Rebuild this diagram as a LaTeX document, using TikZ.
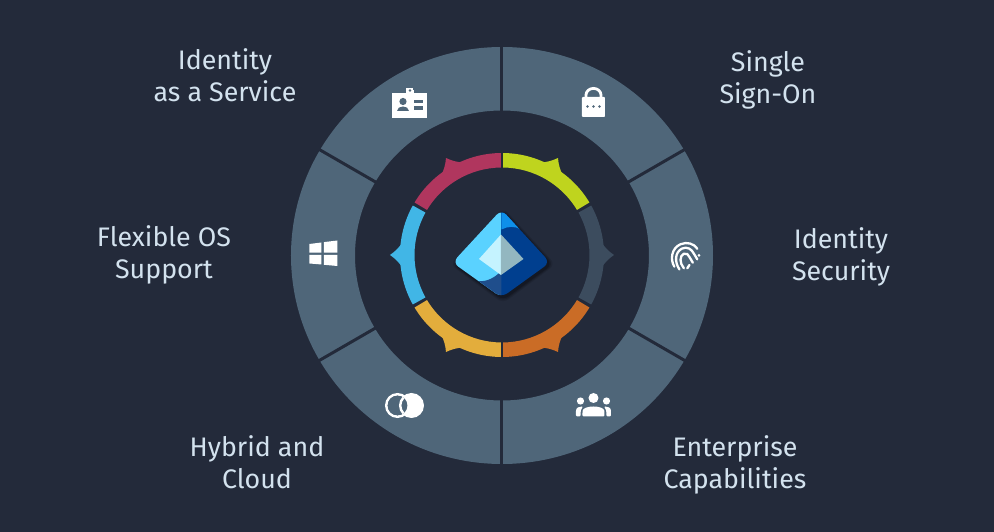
\documentclass[tikz,border=0pt]{standalone}
\usepackage{fontspec}
\setmainfont{Fira Sans}
\definecolor{bg}{HTML}{232A3A}
\definecolor{ringc}{HTML}{4F6679}
\definecolor{txt}{HTML}{D3E2EE}
\definecolor{crim}{HTML}{B0365E}
\definecolor{lime}{HTML}{BFD41E}
\definecolor{slate}{HTML}{3C4C5E}
\definecolor{orng}{HTML}{CA6C26}
\definecolor{gold}{HTML}{E3AD3C}
\definecolor{sky}{HTML}{41B6E6}
\definecolor{lgA}{HTML}{5AD2FF}
\definecolor{lgB}{HTML}{003F8F}
\definecolor{lgC}{HTML}{0E90EA}
\definecolor{lgD}{HTML}{1F4E8C}
\definecolor{lgE}{HTML}{C5F3FF}
\definecolor{lgF}{HTML}{93B7C0}
\tikzset{
  label/.style={text=txt,font=\fontsize{26.8}{32}\selectfont,align=center,inner sep=0pt},
  px/.style={shift={(-502,255)},yscale=-1},
  gapline/.style={draw=bg,line width=3pt},
  icon/.style={fill=white,draw=none},
  iconline/.style={draw=white,line cap=round,fill=none}
}
\newcommand{\ringseg}[4]{%
  \fill[#3] (#1:102) arc[start angle=#1,end angle=#2,radius=102] -- (#2:87.5) arc[start angle=#2,end angle=#1,radius=87.5] -- cycle;
  \fill[#3] ({#4-6.5}:101) .. controls ({#4-4.5}:103) and ({#4-2}:106.5) .. (#4:112) .. controls ({#4+2}:106.5) and ({#4+4.5}:103) .. ({#4+6.5}:101) -- cycle;
}
\newcommand{\logopath}{(501.5,209.5) -- (550,262.5) -- (501.5,297.5) -- (452.5,262.5) -- cycle}
\begin{document}
\begin{tikzpicture}[x=1pt,y=1pt]
\useasboundingbox (-502,-277) rectangle (492,255);
\fill[bg] (-502,-277) rectangle (492,255);
% outer ring
\fill[ringc,even odd rule] (0,-0.5) ellipse[x radius=211,y radius=208.5] (0,-0.5) ellipse[x radius=147,y radius=145];
\foreach \a in {90,30,-30,-90,150,210}{
  \draw[gapline] (\a:144) -- (\a:214);
}
% coloured ring
\ringseg{31}{89.3}{lime}{60}
\ringseg{-29}{29}{slate}{0}
\ringseg{-89.3}{-31}{orng}{-60}
\ringseg{211}{269.3}{gold}{240}
\ringseg{151}{209}{sky}{180}
\ringseg{90.7}{149}{crim}{120}
% logo
\begin{scope}[px]
  \foreach \d/\o in {4/0.10,2.5/0.14,1/0.2}{
    \fill[black,opacity=\o,rounded corners=7pt,shift={(1.5,2)}] (501.5,{209.5-\d}) -- ({550+\d},262.5) -- (501.5,{297.5+\d}) -- ({452.5-\d},262.5) -- cycle;
  }
  \begin{scope}
    \clip[rounded corners=7pt] \logopath;
    \fill[lgA] (445,200) rectangle (501.5,305);
    \fill[lgB] (501.5,200) rectangle (556,305);
    \fill[lgC] (501.5,200) -- (501.5,229.5) .. controls (508,226) and (515,226) .. (521,229.5) -- (540,200) -- cycle;
    \fill[lgD] (501.5,305) -- (501.5,271) .. controls (494,278) and (487,282) .. (478,281) -- (470,305) -- cycle;
    \fill[lgE] (501,234.5) -- (501,275) -- (479,259) -- cycle;
    \fill[lgF] (501,234.5) -- (501,275) -- (523.5,259) -- cycle;
  \end{scope}
  % id card
  \fill[icon] (392,93) rectangle (427.5,118);
  \fill[icon] (406,90) rectangle (414,94);
  \fill[icon] (406.5,88.5) rectangle (413.5,92);
  \fill[ringc] (410,90.5) circle[radius=1.4];
  \fill[ringc] (403,101.5) circle[radius=3.6];
  \fill[ringc] (397,111.5) .. controls (397,105) and (409,105) .. (409,111.5) -- cycle;
  \fill[ringc] (414,100) rectangle (423,103.5);
  \fill[ringc] (414,106.5) rectangle (423,110);
  % lock
  \draw[white,line width=2.8pt] (586,98) -- (586,95) arc[start angle=180,end angle=360,x radius=7.5,y radius=6.6] -- (601,98);
  \fill[icon,rounded corners=0.8pt] (582,97) rectangle (605,117);
  \foreach \x in {587.5,593.5,599.5}{\fill[ringc] (\x,106.5) circle[radius=1.3];}
  % windows
  \fill[icon] (309.5,244) -- (321.5,242.5) -- (321.5,252.6) -- (309.5,252.6) -- cycle;
  \fill[icon] (324,242.1) -- (337.5,240.5) -- (337.5,252.6) -- (324,252.6) -- cycle;
  \fill[icon] (309.5,254.8) -- (321.5,254.8) -- (321.5,264.5) -- (309.5,263.5) -- cycle;
  \fill[icon] (324,254.8) -- (337.5,254.8) -- (337.5,266) -- (324,264.8) -- cycle;
  % overlapping circles
  \draw[white,line width=2.6pt] (397.5,405.5) circle[radius=11.2];
  \fill[icon] (411.5,405.5) circle[radius=12.5];
  \fill[ringc] (397.5,405.5) circle[radius=9.9];
  \begin{scope}
    \clip (397.5,405.5) circle[radius=9.9];
    \draw[white,line width=2.4pt] (411.5,405.5) circle[radius=11.3];
  \end{scope}
  % people
  \fill[icon] (593.5,398) circle[radius=5];
  \fill[icon] (580.5,401) circle[radius=3.6];
  \fill[icon] (606.5,401) circle[radius=3.6];
  \fill[icon,rounded corners=1pt] (582.5,416.5) -- (582.5,412) .. controls (583,405) and (604,405) .. (604.5,412) -- (604.5,416.5) -- cycle;
  \fill[icon,rounded corners=1pt] (576,416.5) -- (576,412) .. controls (576,407.5) and (579,406.5) .. (583,406.5) .. controls (581,409) and (580.5,411) .. (580.5,416.5) -- cycle;
  \fill[icon,rounded corners=1pt] (611,416.5) -- (611,412) .. controls (611,407.5) and (608,406.5) .. (604,406.5) .. controls (606,409) and (606.5,411) .. (606.5,416.5) -- cycle;
\end{scope}
% fingerprint
\begin{scope}[shift={(183,-1)},scale=1.12,iconline/.append style={line width=2.3pt}]
  \draw[iconline] (-9.5,-9.5) .. controls (-13.5,-3) and (-12,7) .. (-4,10.5) .. controls (2,13) and (8,11) .. (11,6.5);
  \draw[iconline] (-5,-12) .. controls (-9.5,-5) and (-9,3) .. (-3,6.5) .. controls (2,9) and (6,6) .. (8,2) -- (11,-3);
  \draw[iconline] (-1,-11) .. controls (-5,-6) and (-5,0) .. (-1,2) .. controls (1.5,3.2) and (3,1) .. (4,-1) -- (7,-6);
  \draw[iconline] (2,-11) -- (4,-8);
  \fill[white] (12.5,0.5) circle[radius=1.3];
\end{scope}
% labels
\begin{scope}[px]
  \node[label] (idaas) at (225,75) {Identity\\as a Service};
  \node[label] (sso) at (768,79.5) {Single\\Sign-On};
  \node[label] (sec) at (841,256.5) {Identity\\Security};
  \node[label] (os) at (164,254.5) {Flexible OS\\Support};
  \node[label] (hyb) at (257,462.5) {Hybrid and\\Cloud};
  \node[label] (ent) at (735,464.5) {Enterprise\\Capabilities};
\end{scope}
\end{tikzpicture}
\end{document}
